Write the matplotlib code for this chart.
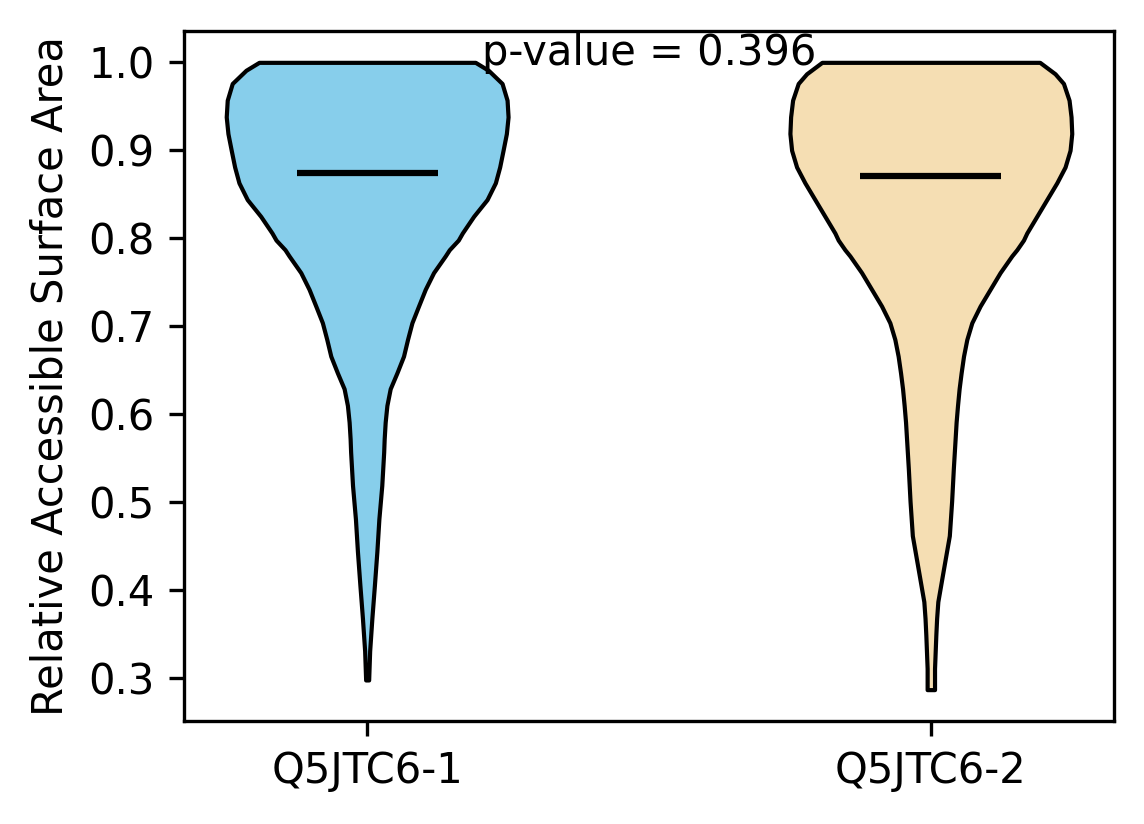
import numpy as np
import matplotlib
matplotlib.use("Agg")
import matplotlib.pyplot as plt

# ---- data ----
categories = ["Q5JTC6-1", "Q5JTC6-2"]
colors = ["#87CEEB", "#F5DEB3"]
p_value = 0.396

v1_coords = [0.298, 0.331, 0.368, 0.405, 0.444, 0.481, 0.519, 0.557, 0.572, 0.591,
             0.610, 0.629, 0.647, 0.666, 0.685, 0.704, 0.723, 0.742, 0.761, 0.780,
             0.787, 0.798, 0.806, 0.825, 0.844, 0.863, 0.881, 0.900, 0.919, 0.938,
             0.957, 0.976, 0.991, 1.000]
v1_density = [1.5, 2.5, 4.7, 7.2, 9.7, 11.7, 14.6, 16.5, 17.0, 18.0,
              19.7, 23.0, 29.7, 36.3, 40.3, 44.7, 51.3, 58.0, 66.3, 78.0,
              82.0, 91.0, 95.0, 106.3, 119.7, 128.0, 132.3, 135.7, 139.0, 140.7,
              139.7, 134.7, 121.0, 108.0]
v1_mean = 0.874

v2_coords = [0.287, 0.311, 0.349, 0.368, 0.387, 0.425, 0.462, 0.501, 0.538, 0.572,
             0.591, 0.610, 0.629, 0.647, 0.666, 0.685, 0.704, 0.723, 0.742, 0.761,
             0.780, 0.787, 0.798, 0.806, 0.825, 0.844, 0.863, 0.881, 0.900, 0.919,
             0.938, 0.957, 0.976, 0.987, 1.000]
v2_density = [3.7, 3.7, 5.0, 5.8, 7.0, 12.8, 18.5, 20.8, 22.5, 24.3,
              25.3, 26.7, 28.3, 30.3, 32.7, 36.0, 41.0, 49.3, 59.3, 69.3,
              81.0, 86.0, 92.7, 96.0, 106.0, 116.0, 126.0, 134.3, 139.3, 141.0,
              140.3, 138.3, 132.7, 124.3, 109.0]
v2_mean = 0.871

# ---- build violin stats ----
vpstats = []
for coords, dens, mean in [(v1_coords, v1_density, v1_mean),
                           (v2_coords, v2_density, v2_mean)]:
    coords = np.asarray(coords)
    vpstats.append(dict(coords=coords, vals=np.asarray(dens), mean=mean,
                        median=mean, min=coords.min(), max=coords.max()))

fig = plt.figure(figsize=(1144 / 300, 824 / 300), dpi=300)
ax = fig.add_axes([0.1608, 0.125, 0.9738 - 0.1608, 0.9624 - 0.125])

positions = [0, 1]
parts = ax.violin(vpstats, positions=positions, widths=0.5,
                  showmeans=True, showextrema=False, showmedians=False)
for body, c in zip(parts["bodies"], colors):
    body.set_facecolor(c)
    body.set_edgecolor("black")
    body.set_linewidth(1.0)
    body.set_alpha(1)
parts["cmeans"].set_color("black")
parts["cmeans"].set_linewidth(1.5)

ax.set_xticks(positions)
ax.set_xticklabels(categories)
ax.set_ylabel("Relative Accessible Surface Area")
ax.text(0.5, 0.95, f"p-value = {p_value:.3f}", transform=ax.transAxes,
        ha="center", fontsize=10)

fig.savefig("out.png", dpi=300)
